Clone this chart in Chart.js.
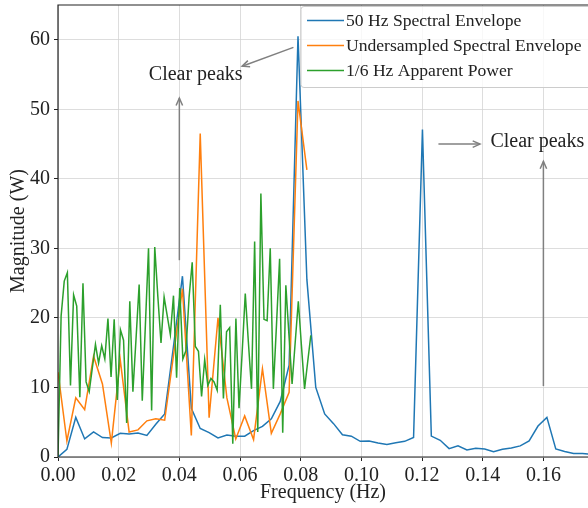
<!DOCTYPE html>
<html>
<head>
<meta charset="utf-8">
<script src="https://cdn.jsdelivr.net/npm/chart.js@4.4.1/dist/chart.umd.min.js"></script>
<style>
  html,body{margin:0;padding:0;background:#fff;}
  canvas{display:block;}
</style>
</head>
<body>
<canvas id="chartSpec" width="588" height="508"></canvas>
<script>
// frequency grids (Hz)
const stepEnvelope=0.00293;
const stepApparent=1/972;

// magnitudes (W)
const env50Hz=[0.0,1.1,5.7,2.6,3.6,2.8,2.75,3.4,3.3,3.45,3.1,
  4.7,6.2,16.0,26.0,7.0,4.1,3.5,2.75,3.15,3.0,
  3.0,3.8,4.4,5.5,8.0,13.2,60.5,25.5,10.0,6.2,
  4.8,3.2,3.0,2.25,2.3,2.0,1.8,2.05,2.25,2.8,
  47.1,3.0,2.4,1.2,1.6,1.0,1.25,1.15,0.75,1.1,
  1.3,1.6,2.3,4.45,5.7,1.15,0.8,0.5,0.5,0.4];
const envUnder=[12.2,2.3,8.5,6.8,14.5,10.5,2.0,14.0,3.6,3.9,5.2,5.5,5.3,14.7,24.2,
  3.1,46.5,5.65,20.0,8.5,2.6,5.9,2.5,12.7,3.4,6.2,9.3,51.2,41.3];
const apparent=[0,20.3,25.3,26.5,10.3,23.3,21.7,8.6,25.0,10.8,
  9.4,12.8,16.2,13.5,16.0,14.1,19.9,11.5,19.8,8.2,
  18.3,16.8,4.9,22.4,9.4,17.0,24.8,8.1,19.0,30.0,
  6.7,30.2,23.0,16.4,23.0,20.3,17.6,23.2,11.4,24.3,
  14.1,15.3,23.0,28.0,15.9,15.2,8.7,14.0,10.3,11.3,
  10.8,9.6,21.9,8.4,18.0,18.6,1.9,19.9,7.0,15.0,
  23.5,16.5,9.8,31.0,3.6,37.9,19.8,19.6,30.0,9.8,
  19.0,28.5,3.5,24.7,17.5,10.5,16.5,22.4,16.0,9.8,
  13.7,17.5];

const seriesNames=['50 Hz Spectral Envelope','Undersampled Spectral Envelope','1/6 Hz Apparent Power'];
const seriesColors=['#1f77b4','#ff7f0e','#2ca02c'];
const xTicks=[0,0.02,0.04,0.06,0.08,0.10,0.12,0.14,0.16];
const yTicks=[0,10,20,30,40,50,60];

// annotation: label position and arrows [from x,y, to x,y] in data units
const notes=[
  {text:'Clear peaks',x:0.0454,y:54.9,arrows:[[0.0776,58.9,0.0607,56.2],[0.04,28.3,0.04,51.6]]},
  {text:'Clear peaks',x:0.1580,y:45.4,arrows:[[0.1254,45.0,0.1391,45.0],[0.16,10.2,0.16,42.5]]}
];

const serif="'Liberation Serif', 'Times New Roman', serif";
const toPts=(vals,step)=>vals.map((v,i)=>({x:i*step,y:v}));

const decor={
  id:'decor',
  afterDatasetsDraw(chart){
    const {ctx,chartArea:a,scales:{x,y}}=chart;
    ctx.save();
    // annotations
    ctx.strokeStyle='#808080';ctx.lineWidth=1.5;
    notes.forEach(n=>{
      n.arrows.forEach(([x1,y1,x2,y2])=>{
        const p1=[x.getPixelForValue(x1),y.getPixelForValue(y1)];
        const p2=[x.getPixelForValue(x2),y.getPixelForValue(y2)];
        const ang=Math.atan2(p2[1]-p1[1],p2[0]-p1[0]);
        ctx.beginPath();ctx.moveTo(p1[0],p1[1]);ctx.lineTo(p2[0],p2[1]);ctx.stroke();
        ctx.beginPath();
        ctx.moveTo(p2[0]-8*Math.cos(ang-0.42),p2[1]-8*Math.sin(ang-0.42));
        ctx.lineTo(p2[0],p2[1]);
        ctx.lineTo(p2[0]-8*Math.cos(ang+0.42),p2[1]-8*Math.sin(ang+0.42));
        ctx.stroke();
      });
      ctx.fillStyle='#222';ctx.font='20px '+serif;
      ctx.textAlign='center';ctx.textBaseline='middle';
      ctx.fillText(n.text,x.getPixelForValue(n.x),y.getPixelForValue(n.y));
    });
    // frame
    ctx.strokeStyle='#222';ctx.lineWidth=1.2;
    ctx.beginPath();
    ctx.moveTo(a.right+2,a.top);ctx.lineTo(a.left,a.top);ctx.lineTo(a.left,a.bottom);ctx.lineTo(a.right+2,a.bottom);
    ctx.stroke();
    // legend
    const lx=a.left+243,ly=a.top+1.5,lw=300,lh=81;
    ctx.beginPath();ctx.roundRect(lx,ly,lw,lh,3);
    ctx.fillStyle='rgba(255,255,255,0.8)';ctx.fill();
    ctx.strokeStyle='#cccccc';ctx.lineWidth=1;ctx.stroke();
    ctx.font='17.6px '+serif;ctx.textAlign='left';ctx.textBaseline='middle';
    seriesNames.forEach((name,i)=>{
      const ry=ly+14+25*i;
      ctx.strokeStyle=seriesColors[i];ctx.lineWidth=1.5;
      ctx.beginPath();ctx.moveTo(lx+6,ry);ctx.lineTo(lx+43,ry);ctx.stroke();
      ctx.fillStyle='#222';ctx.fillText(name,lx+45,ry+1);
    });
    ctx.restore();
  }
};

const ctx=document.getElementById('chartSpec').getContext('2d');
new Chart(ctx,{
  type:'line',
  data:{
    datasets:[
      {label:seriesNames[0],data:toPts(env50Hz,stepEnvelope),borderColor:seriesColors[0],order:3},
      {label:seriesNames[1],data:toPts(envUnder,stepEnvelope),borderColor:seriesColors[1],order:2},
      {label:seriesNames[2],data:toPts(apparent,stepApparent),borderColor:seriesColors[2],order:1}
    ]
  },
  options:{
    responsive:false,animation:false,devicePixelRatio:1,
    layout:{padding:{top:5,right:0,left:0,bottom:0}},
    elements:{point:{radius:0},line:{borderWidth:1.5,tension:0,fill:false}},
    plugins:{legend:{display:false},tooltip:{enabled:false}},
    scales:{
      x:{type:'linear',min:0,max:0.1747,
        afterFit:s=>{s.height=51;s.paddingLeft=0;s.paddingRight=0;},
        afterBuildTicks:s=>{s.ticks=xTicks.map(v=>({value:v}));},
        ticks:{color:'#222',font:{family:serif,size:20},padding:3,callback:v=>v.toFixed(2),maxRotation:0},
        grid:{color:'#d4d4d4',lineWidth:0.8,borderDash:[3,2],tickLength:4,tickColor:'#222',tickWidth:1},
        border:{display:false},
        title:{display:true,text:'Frequency (Hz)',color:'#222',font:{family:serif,size:20},padding:{top:0,bottom:3}}
      },
      y:{min:0,max:65,
        afterFit:s=>{s.width=58;s.paddingTop=0;s.paddingBottom=0;},
        afterBuildTicks:s=>{s.ticks=yTicks.map(v=>({value:v}));},
        ticks:{color:'#222',font:{family:serif,size:20},padding:4},
        grid:{color:'#d4d4d4',lineWidth:0.8,borderDash:[3,2],tickLength:4,tickColor:'#222',tickWidth:1},
        border:{display:false},
        title:{display:true,text:'Magnitude (W)',color:'#222',font:{family:serif,size:20},padding:{top:7,bottom:0}}
      }
    }
  },
  plugins:[decor]
});
</script>
</body>
</html>
